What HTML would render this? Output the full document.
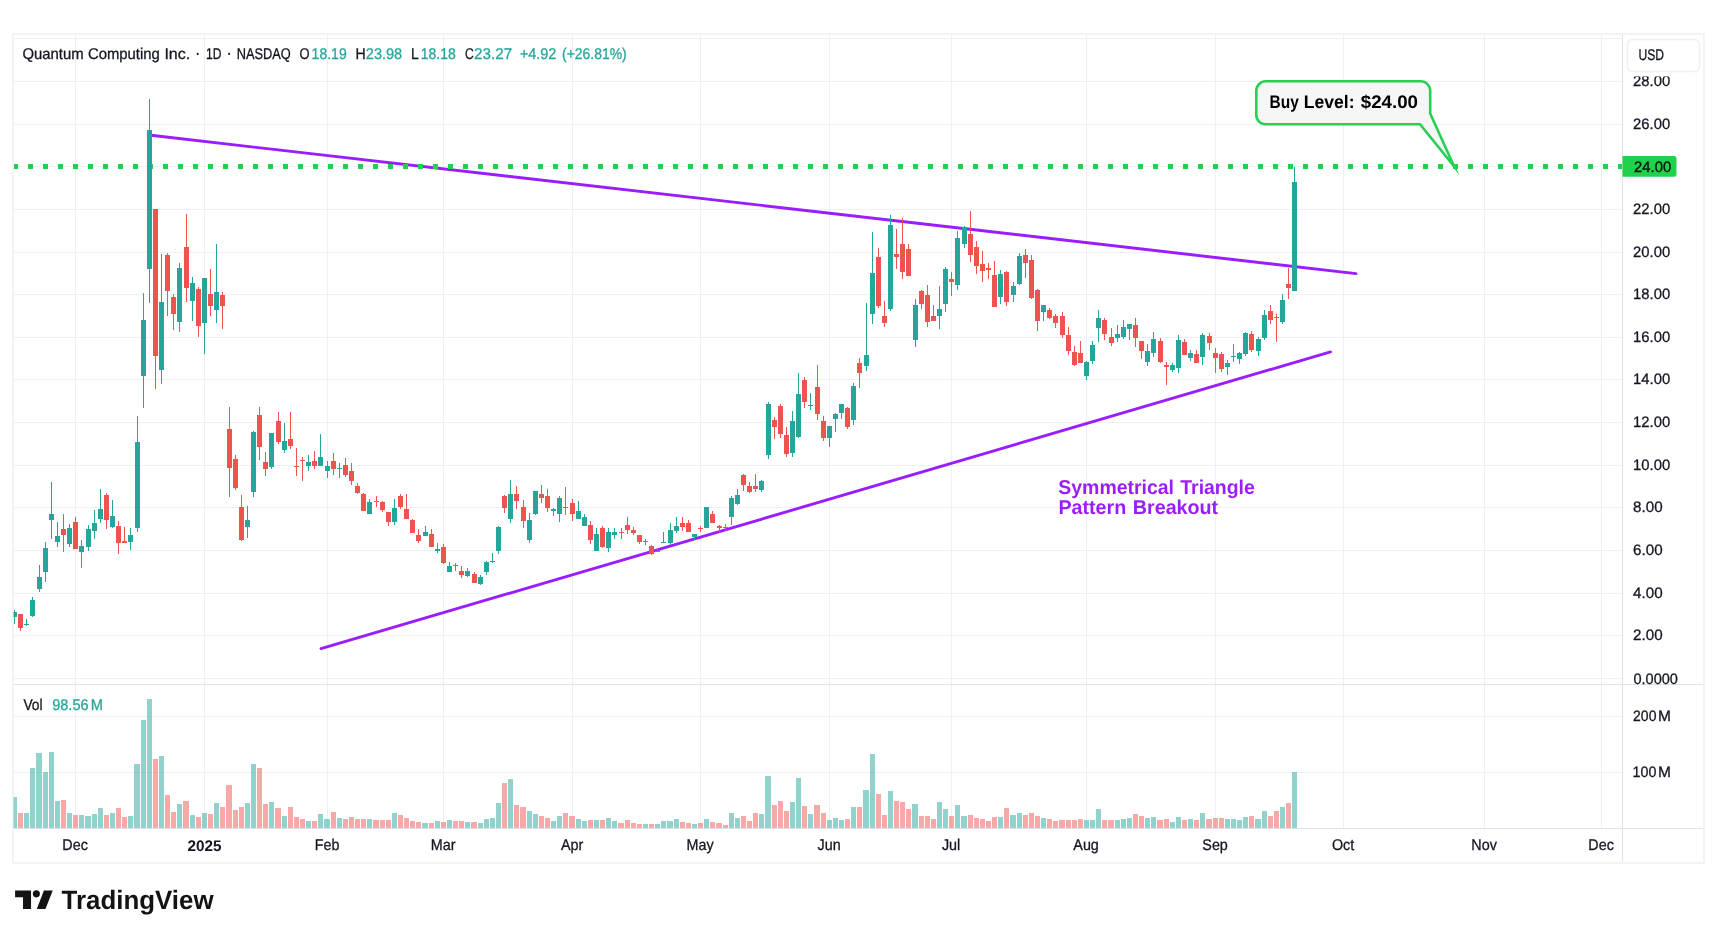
<!DOCTYPE html><html><head><meta charset="utf-8"><title>QUBT</title>
<style>html,body{margin:0;padding:0;background:#fff}body{width:1717px;height:938px;overflow:hidden}svg{display:block;will-change:transform;opacity:0.999}text{font-family:"Liberation Sans",sans-serif;text-rendering:geometricPrecision}</style></head><body>
<svg width="1717" height="938" viewBox="0 0 1717 938">
<rect width="1717" height="938" fill="#fff"/>
<g shape-rendering="crispEdges">
<g fill="#eef0f8">
<rect x="75" y="35" width="1" height="793"/>
<rect x="204" y="35" width="1" height="793"/>
<rect x="327" y="35" width="1" height="793"/>
<rect x="443" y="35" width="1" height="793"/>
<rect x="572" y="35" width="1" height="793"/>
<rect x="700" y="35" width="1" height="793"/>
<rect x="829" y="35" width="1" height="793"/>
<rect x="951" y="35" width="1" height="793"/>
<rect x="1086" y="35" width="1" height="793"/>
<rect x="1215" y="35" width="1" height="793"/>
<rect x="1343" y="35" width="1" height="793"/>
<rect x="1484" y="35" width="1" height="793"/>
<rect x="1601" y="35" width="1" height="793"/>
<rect x="14" y="678" width="1608" height="1"/>
<rect x="14" y="635" width="1608" height="1"/>
<rect x="14" y="593" width="1608" height="1"/>
<rect x="14" y="550" width="1608" height="1"/>
<rect x="14" y="507" width="1608" height="1"/>
<rect x="14" y="465" width="1608" height="1"/>
<rect x="14" y="422" width="1608" height="1"/>
<rect x="14" y="379" width="1608" height="1"/>
<rect x="14" y="337" width="1608" height="1"/>
<rect x="14" y="294" width="1608" height="1"/>
<rect x="14" y="252" width="1608" height="1"/>
<rect x="14" y="209" width="1608" height="1"/>
<rect x="14" y="166" width="1608" height="1"/>
<rect x="14" y="124" width="1608" height="1"/>
<rect x="14" y="81" width="1608" height="1"/>
<rect x="14" y="38" width="1608" height="1"/>
<rect x="14" y="716" width="1608" height="1"/>
<rect x="14" y="772" width="1608" height="1"/>
</g>
<g fill="#dfe2ea">
<rect x="1622" y="35" width="1" height="827"/>
<rect x="14" y="828" width="1689" height="1"/>
<rect x="14" y="684" width="1689" height="1"/>
</g>
<g fill="#f3f3f4">
<rect x="12" y="33" width="1693" height="2"/>
<rect x="12" y="862" width="1693" height="2"/>
<rect x="12" y="33" width="2" height="831"/>
<rect x="1703" y="33" width="2" height="831"/>
</g>
</g>
<defs><clipPath id="cp"><rect x="13" y="35" width="1609" height="793"/></clipPath></defs>
<g stroke="#9a1cff" stroke-width="2.9" stroke-linecap="round" fill="none">
<line x1="151" y1="135.3" x2="1356" y2="273.6"/>
<line x1="321" y1="648.6" x2="1330.5" y2="351.9"/>
</g>
<g shape-rendering="crispEdges" fill="#20d14c">
<rect x="14" y="164" width="4" height="5"/>
<rect x="28" y="164" width="5" height="5"/>
<rect x="43" y="164" width="5" height="5"/>
<rect x="58" y="164" width="5" height="5"/>
<rect x="73" y="164" width="5" height="5"/>
<rect x="88" y="164" width="5" height="5"/>
<rect x="103" y="164" width="5" height="5"/>
<rect x="118" y="164" width="5" height="5"/>
<rect x="133" y="164" width="5" height="5"/>
<rect x="148" y="164" width="5" height="5"/>
<rect x="163" y="164" width="5" height="5"/>
<rect x="178" y="164" width="5" height="5"/>
<rect x="193" y="164" width="5" height="5"/>
<rect x="208" y="164" width="5" height="5"/>
<rect x="223" y="164" width="5" height="5"/>
<rect x="238" y="164" width="5" height="5"/>
<rect x="253" y="164" width="5" height="5"/>
<rect x="268" y="164" width="5" height="5"/>
<rect x="283" y="164" width="5" height="5"/>
<rect x="298" y="164" width="5" height="5"/>
<rect x="313" y="164" width="5" height="5"/>
<rect x="328" y="164" width="5" height="5"/>
<rect x="343" y="164" width="5" height="5"/>
<rect x="358" y="164" width="5" height="5"/>
<rect x="373" y="164" width="5" height="5"/>
<rect x="388" y="164" width="5" height="5"/>
<rect x="403" y="164" width="5" height="5"/>
<rect x="418" y="164" width="5" height="5"/>
<rect x="433" y="164" width="5" height="5"/>
<rect x="448" y="164" width="5" height="5"/>
<rect x="463" y="164" width="5" height="5"/>
<rect x="478" y="164" width="5" height="5"/>
<rect x="493" y="164" width="5" height="5"/>
<rect x="508" y="164" width="5" height="5"/>
<rect x="523" y="164" width="5" height="5"/>
<rect x="538" y="164" width="5" height="5"/>
<rect x="553" y="164" width="5" height="5"/>
<rect x="568" y="164" width="5" height="5"/>
<rect x="583" y="164" width="5" height="5"/>
<rect x="598" y="164" width="5" height="5"/>
<rect x="613" y="164" width="5" height="5"/>
<rect x="628" y="164" width="5" height="5"/>
<rect x="643" y="164" width="5" height="5"/>
<rect x="658" y="164" width="5" height="5"/>
<rect x="673" y="164" width="5" height="5"/>
<rect x="688" y="164" width="5" height="5"/>
<rect x="703" y="164" width="5" height="5"/>
<rect x="718" y="164" width="5" height="5"/>
<rect x="733" y="164" width="5" height="5"/>
<rect x="748" y="164" width="5" height="5"/>
<rect x="763" y="164" width="5" height="5"/>
<rect x="778" y="164" width="5" height="5"/>
<rect x="793" y="164" width="5" height="5"/>
<rect x="808" y="164" width="5" height="5"/>
<rect x="823" y="164" width="5" height="5"/>
<rect x="838" y="164" width="5" height="5"/>
<rect x="853" y="164" width="5" height="5"/>
<rect x="868" y="164" width="5" height="5"/>
<rect x="883" y="164" width="5" height="5"/>
<rect x="898" y="164" width="5" height="5"/>
<rect x="913" y="164" width="5" height="5"/>
<rect x="928" y="164" width="5" height="5"/>
<rect x="943" y="164" width="5" height="5"/>
<rect x="958" y="164" width="5" height="5"/>
<rect x="973" y="164" width="5" height="5"/>
<rect x="988" y="164" width="5" height="5"/>
<rect x="1003" y="164" width="5" height="5"/>
<rect x="1018" y="164" width="5" height="5"/>
<rect x="1033" y="164" width="5" height="5"/>
<rect x="1048" y="164" width="5" height="5"/>
<rect x="1063" y="164" width="5" height="5"/>
<rect x="1078" y="164" width="5" height="5"/>
<rect x="1093" y="164" width="5" height="5"/>
<rect x="1108" y="164" width="5" height="5"/>
<rect x="1123" y="164" width="5" height="5"/>
<rect x="1138" y="164" width="5" height="5"/>
<rect x="1153" y="164" width="5" height="5"/>
<rect x="1168" y="164" width="5" height="5"/>
<rect x="1183" y="164" width="5" height="5"/>
<rect x="1198" y="164" width="5" height="5"/>
<rect x="1213" y="164" width="5" height="5"/>
<rect x="1228" y="164" width="5" height="5"/>
<rect x="1243" y="164" width="5" height="5"/>
<rect x="1258" y="164" width="5" height="5"/>
<rect x="1273" y="164" width="5" height="5"/>
<rect x="1288" y="164" width="5" height="5"/>
<rect x="1303" y="164" width="5" height="5"/>
<rect x="1318" y="164" width="5" height="5"/>
<rect x="1333" y="164" width="5" height="5"/>
<rect x="1348" y="164" width="5" height="5"/>
<rect x="1363" y="164" width="5" height="5"/>
<rect x="1378" y="164" width="5" height="5"/>
<rect x="1393" y="164" width="5" height="5"/>
<rect x="1408" y="164" width="5" height="5"/>
<rect x="1423" y="164" width="5" height="5"/>
<rect x="1438" y="164" width="5" height="5"/>
<rect x="1453" y="164" width="5" height="5"/>
<rect x="1468" y="164" width="5" height="5"/>
<rect x="1483" y="164" width="5" height="5"/>
<rect x="1498" y="164" width="5" height="5"/>
<rect x="1513" y="164" width="5" height="5"/>
<rect x="1528" y="164" width="5" height="5"/>
<rect x="1543" y="164" width="5" height="5"/>
<rect x="1558" y="164" width="5" height="5"/>
<rect x="1573" y="164" width="5" height="5"/>
<rect x="1588" y="164" width="5" height="5"/>
<rect x="1603" y="164" width="5" height="5"/>
<rect x="1618" y="164" width="4" height="5"/>
</g>
<g shape-rendering="crispEdges" clip-path="url(#cp)">
<rect x="12" y="797" width="5" height="31" fill="#26a69a" fill-opacity="0.5"/>
<rect x="18" y="813" width="5" height="15" fill="#ef5350" fill-opacity="0.5"/>
<rect x="24" y="813" width="5" height="15" fill="#26a69a" fill-opacity="0.5"/>
<rect x="30" y="768" width="5" height="60" fill="#26a69a" fill-opacity="0.5"/>
<rect x="36" y="753" width="6" height="75" fill="#26a69a" fill-opacity="0.5"/>
<rect x="43" y="772" width="5" height="56" fill="#26a69a" fill-opacity="0.5"/>
<rect x="49" y="752" width="5" height="76" fill="#26a69a" fill-opacity="0.5"/>
<rect x="55" y="801" width="5" height="27" fill="#26a69a" fill-opacity="0.5"/>
<rect x="61" y="800" width="5" height="28" fill="#ef5350" fill-opacity="0.5"/>
<rect x="67" y="813" width="5" height="15" fill="#26a69a" fill-opacity="0.5"/>
<rect x="73" y="815" width="5" height="13" fill="#ef5350" fill-opacity="0.5"/>
<rect x="79" y="815" width="5" height="13" fill="#26a69a" fill-opacity="0.5"/>
<rect x="85" y="816" width="6" height="12" fill="#26a69a" fill-opacity="0.5"/>
<rect x="92" y="814" width="5" height="14" fill="#26a69a" fill-opacity="0.5"/>
<rect x="98" y="808" width="5" height="20" fill="#26a69a" fill-opacity="0.5"/>
<rect x="104" y="815" width="5" height="13" fill="#ef5350" fill-opacity="0.5"/>
<rect x="110" y="813" width="5" height="15" fill="#26a69a" fill-opacity="0.5"/>
<rect x="116" y="808" width="5" height="20" fill="#ef5350" fill-opacity="0.5"/>
<rect x="122" y="817" width="5" height="11" fill="#ef5350" fill-opacity="0.5"/>
<rect x="128" y="816" width="5" height="12" fill="#26a69a" fill-opacity="0.5"/>
<rect x="134" y="764" width="6" height="64" fill="#26a69a" fill-opacity="0.5"/>
<rect x="141" y="720" width="5" height="108" fill="#26a69a" fill-opacity="0.5"/>
<rect x="147" y="699" width="5" height="129" fill="#26a69a" fill-opacity="0.5"/>
<rect x="153" y="759" width="5" height="69" fill="#ef5350" fill-opacity="0.5"/>
<rect x="159" y="756" width="5" height="72" fill="#26a69a" fill-opacity="0.5"/>
<rect x="165" y="795" width="5" height="33" fill="#ef5350" fill-opacity="0.5"/>
<rect x="171" y="812" width="5" height="16" fill="#ef5350" fill-opacity="0.5"/>
<rect x="177" y="804" width="5" height="24" fill="#26a69a" fill-opacity="0.5"/>
<rect x="183" y="801" width="6" height="27" fill="#ef5350" fill-opacity="0.5"/>
<rect x="190" y="815" width="5" height="13" fill="#26a69a" fill-opacity="0.5"/>
<rect x="196" y="817" width="5" height="11" fill="#ef5350" fill-opacity="0.5"/>
<rect x="202" y="813" width="5" height="15" fill="#26a69a" fill-opacity="0.5"/>
<rect x="208" y="814" width="5" height="14" fill="#ef5350" fill-opacity="0.5"/>
<rect x="214" y="803" width="5" height="25" fill="#26a69a" fill-opacity="0.5"/>
<rect x="220" y="807" width="5" height="21" fill="#ef5350" fill-opacity="0.5"/>
<rect x="226" y="785" width="6" height="43" fill="#ef5350" fill-opacity="0.5"/>
<rect x="233" y="810" width="5" height="18" fill="#ef5350" fill-opacity="0.5"/>
<rect x="239" y="807" width="5" height="21" fill="#ef5350" fill-opacity="0.5"/>
<rect x="245" y="803" width="5" height="25" fill="#26a69a" fill-opacity="0.5"/>
<rect x="251" y="764" width="5" height="64" fill="#26a69a" fill-opacity="0.5"/>
<rect x="257" y="768" width="5" height="60" fill="#ef5350" fill-opacity="0.5"/>
<rect x="263" y="804" width="5" height="24" fill="#ef5350" fill-opacity="0.5"/>
<rect x="269" y="802" width="5" height="26" fill="#26a69a" fill-opacity="0.5"/>
<rect x="275" y="808" width="6" height="20" fill="#ef5350" fill-opacity="0.5"/>
<rect x="282" y="816" width="5" height="12" fill="#26a69a" fill-opacity="0.5"/>
<rect x="288" y="807" width="5" height="21" fill="#ef5350" fill-opacity="0.5"/>
<rect x="294" y="817" width="5" height="11" fill="#ef5350" fill-opacity="0.5"/>
<rect x="300" y="819" width="5" height="9" fill="#ef5350" fill-opacity="0.5"/>
<rect x="306" y="821" width="5" height="7" fill="#26a69a" fill-opacity="0.5"/>
<rect x="312" y="821" width="5" height="7" fill="#ef5350" fill-opacity="0.5"/>
<rect x="318" y="814" width="5" height="14" fill="#26a69a" fill-opacity="0.5"/>
<rect x="324" y="819" width="6" height="9" fill="#26a69a" fill-opacity="0.5"/>
<rect x="331" y="812" width="5" height="16" fill="#ef5350" fill-opacity="0.5"/>
<rect x="337" y="818" width="5" height="10" fill="#26a69a" fill-opacity="0.5"/>
<rect x="343" y="819" width="5" height="9" fill="#ef5350" fill-opacity="0.5"/>
<rect x="349" y="817" width="5" height="11" fill="#ef5350" fill-opacity="0.5"/>
<rect x="355" y="819" width="5" height="9" fill="#ef5350" fill-opacity="0.5"/>
<rect x="361" y="819" width="5" height="9" fill="#ef5350" fill-opacity="0.5"/>
<rect x="367" y="819" width="5" height="9" fill="#26a69a" fill-opacity="0.5"/>
<rect x="373" y="820" width="6" height="8" fill="#ef5350" fill-opacity="0.5"/>
<rect x="380" y="820" width="5" height="8" fill="#ef5350" fill-opacity="0.5"/>
<rect x="386" y="820" width="5" height="8" fill="#ef5350" fill-opacity="0.5"/>
<rect x="392" y="813" width="5" height="15" fill="#26a69a" fill-opacity="0.5"/>
<rect x="398" y="815" width="5" height="13" fill="#ef5350" fill-opacity="0.5"/>
<rect x="404" y="818" width="5" height="10" fill="#ef5350" fill-opacity="0.5"/>
<rect x="410" y="821" width="5" height="7" fill="#ef5350" fill-opacity="0.5"/>
<rect x="416" y="822" width="5" height="6" fill="#ef5350" fill-opacity="0.5"/>
<rect x="422" y="823" width="6" height="5" fill="#26a69a" fill-opacity="0.5"/>
<rect x="429" y="823" width="5" height="5" fill="#ef5350" fill-opacity="0.5"/>
<rect x="435" y="821" width="5" height="7" fill="#26a69a" fill-opacity="0.5"/>
<rect x="441" y="822" width="5" height="6" fill="#ef5350" fill-opacity="0.5"/>
<rect x="447" y="820" width="5" height="8" fill="#26a69a" fill-opacity="0.5"/>
<rect x="453" y="821" width="5" height="7" fill="#ef5350" fill-opacity="0.5"/>
<rect x="459" y="821" width="5" height="7" fill="#ef5350" fill-opacity="0.5"/>
<rect x="465" y="822" width="5" height="6" fill="#26a69a" fill-opacity="0.5"/>
<rect x="471" y="822" width="6" height="6" fill="#ef5350" fill-opacity="0.5"/>
<rect x="478" y="823" width="5" height="5" fill="#26a69a" fill-opacity="0.5"/>
<rect x="484" y="819" width="5" height="9" fill="#26a69a" fill-opacity="0.5"/>
<rect x="490" y="818" width="5" height="10" fill="#26a69a" fill-opacity="0.5"/>
<rect x="496" y="803" width="5" height="25" fill="#26a69a" fill-opacity="0.5"/>
<rect x="502" y="783" width="5" height="45" fill="#ef5350" fill-opacity="0.5"/>
<rect x="508" y="779" width="5" height="49" fill="#26a69a" fill-opacity="0.5"/>
<rect x="514" y="805" width="5" height="23" fill="#ef5350" fill-opacity="0.5"/>
<rect x="520" y="807" width="6" height="21" fill="#ef5350" fill-opacity="0.5"/>
<rect x="527" y="811" width="5" height="17" fill="#26a69a" fill-opacity="0.5"/>
<rect x="533" y="814" width="5" height="14" fill="#26a69a" fill-opacity="0.5"/>
<rect x="539" y="816" width="5" height="12" fill="#ef5350" fill-opacity="0.5"/>
<rect x="545" y="818" width="5" height="10" fill="#ef5350" fill-opacity="0.5"/>
<rect x="551" y="821" width="5" height="7" fill="#26a69a" fill-opacity="0.5"/>
<rect x="557" y="816" width="5" height="12" fill="#26a69a" fill-opacity="0.5"/>
<rect x="563" y="813" width="5" height="15" fill="#ef5350" fill-opacity="0.5"/>
<rect x="569" y="816" width="6" height="12" fill="#ef5350" fill-opacity="0.5"/>
<rect x="576" y="819" width="5" height="9" fill="#26a69a" fill-opacity="0.5"/>
<rect x="582" y="821" width="5" height="7" fill="#26a69a" fill-opacity="0.5"/>
<rect x="588" y="820" width="5" height="8" fill="#ef5350" fill-opacity="0.5"/>
<rect x="594" y="820" width="5" height="8" fill="#26a69a" fill-opacity="0.5"/>
<rect x="600" y="820" width="5" height="8" fill="#ef5350" fill-opacity="0.5"/>
<rect x="606" y="818" width="5" height="10" fill="#26a69a" fill-opacity="0.5"/>
<rect x="612" y="821" width="5" height="7" fill="#26a69a" fill-opacity="0.5"/>
<rect x="618" y="823" width="6" height="5" fill="#ef5350" fill-opacity="0.5"/>
<rect x="625" y="820" width="5" height="8" fill="#ef5350" fill-opacity="0.5"/>
<rect x="631" y="823" width="5" height="5" fill="#ef5350" fill-opacity="0.5"/>
<rect x="637" y="824" width="5" height="4" fill="#ef5350" fill-opacity="0.5"/>
<rect x="643" y="824" width="5" height="4" fill="#26a69a" fill-opacity="0.5"/>
<rect x="649" y="824" width="5" height="4" fill="#ef5350" fill-opacity="0.5"/>
<rect x="655" y="824" width="5" height="4" fill="#26a69a" fill-opacity="0.5"/>
<rect x="661" y="821" width="5" height="7" fill="#26a69a" fill-opacity="0.5"/>
<rect x="667" y="821" width="6" height="7" fill="#26a69a" fill-opacity="0.5"/>
<rect x="674" y="819" width="5" height="9" fill="#26a69a" fill-opacity="0.5"/>
<rect x="680" y="822" width="5" height="6" fill="#ef5350" fill-opacity="0.5"/>
<rect x="686" y="823" width="5" height="5" fill="#ef5350" fill-opacity="0.5"/>
<rect x="692" y="824" width="5" height="4" fill="#26a69a" fill-opacity="0.5"/>
<rect x="698" y="823" width="5" height="5" fill="#ef5350" fill-opacity="0.5"/>
<rect x="704" y="819" width="5" height="9" fill="#26a69a" fill-opacity="0.5"/>
<rect x="710" y="822" width="5" height="6" fill="#ef5350" fill-opacity="0.5"/>
<rect x="716" y="823" width="6" height="5" fill="#ef5350" fill-opacity="0.5"/>
<rect x="723" y="825" width="5" height="3" fill="#ef5350" fill-opacity="0.5"/>
<rect x="729" y="813" width="5" height="15" fill="#26a69a" fill-opacity="0.5"/>
<rect x="735" y="818" width="5" height="10" fill="#26a69a" fill-opacity="0.5"/>
<rect x="741" y="816" width="5" height="12" fill="#ef5350" fill-opacity="0.5"/>
<rect x="747" y="821" width="5" height="7" fill="#ef5350" fill-opacity="0.5"/>
<rect x="753" y="813" width="5" height="15" fill="#ef5350" fill-opacity="0.5"/>
<rect x="759" y="814" width="5" height="14" fill="#26a69a" fill-opacity="0.5"/>
<rect x="765" y="776" width="6" height="52" fill="#26a69a" fill-opacity="0.5"/>
<rect x="772" y="805" width="5" height="23" fill="#ef5350" fill-opacity="0.5"/>
<rect x="778" y="801" width="5" height="27" fill="#ef5350" fill-opacity="0.5"/>
<rect x="784" y="811" width="5" height="17" fill="#ef5350" fill-opacity="0.5"/>
<rect x="790" y="802" width="5" height="26" fill="#26a69a" fill-opacity="0.5"/>
<rect x="796" y="778" width="5" height="50" fill="#26a69a" fill-opacity="0.5"/>
<rect x="802" y="806" width="5" height="22" fill="#ef5350" fill-opacity="0.5"/>
<rect x="808" y="814" width="5" height="14" fill="#26a69a" fill-opacity="0.5"/>
<rect x="814" y="805" width="6" height="23" fill="#ef5350" fill-opacity="0.5"/>
<rect x="821" y="813" width="5" height="15" fill="#ef5350" fill-opacity="0.5"/>
<rect x="827" y="820" width="5" height="8" fill="#26a69a" fill-opacity="0.5"/>
<rect x="833" y="818" width="5" height="10" fill="#26a69a" fill-opacity="0.5"/>
<rect x="839" y="820" width="5" height="8" fill="#26a69a" fill-opacity="0.5"/>
<rect x="845" y="819" width="5" height="9" fill="#ef5350" fill-opacity="0.5"/>
<rect x="851" y="807" width="5" height="21" fill="#26a69a" fill-opacity="0.5"/>
<rect x="857" y="807" width="5" height="21" fill="#ef5350" fill-opacity="0.5"/>
<rect x="863" y="790" width="6" height="38" fill="#26a69a" fill-opacity="0.5"/>
<rect x="870" y="754" width="5" height="74" fill="#26a69a" fill-opacity="0.5"/>
<rect x="876" y="794" width="5" height="34" fill="#ef5350" fill-opacity="0.5"/>
<rect x="882" y="815" width="5" height="13" fill="#ef5350" fill-opacity="0.5"/>
<rect x="888" y="791" width="5" height="37" fill="#26a69a" fill-opacity="0.5"/>
<rect x="894" y="801" width="5" height="27" fill="#ef5350" fill-opacity="0.5"/>
<rect x="900" y="802" width="5" height="26" fill="#ef5350" fill-opacity="0.5"/>
<rect x="906" y="809" width="5" height="19" fill="#ef5350" fill-opacity="0.5"/>
<rect x="912" y="804" width="6" height="24" fill="#26a69a" fill-opacity="0.5"/>
<rect x="919" y="816" width="5" height="12" fill="#ef5350" fill-opacity="0.5"/>
<rect x="925" y="816" width="5" height="12" fill="#ef5350" fill-opacity="0.5"/>
<rect x="931" y="819" width="5" height="9" fill="#ef5350" fill-opacity="0.5"/>
<rect x="937" y="802" width="5" height="26" fill="#26a69a" fill-opacity="0.5"/>
<rect x="943" y="809" width="5" height="19" fill="#26a69a" fill-opacity="0.5"/>
<rect x="949" y="816" width="5" height="12" fill="#ef5350" fill-opacity="0.5"/>
<rect x="955" y="805" width="5" height="23" fill="#26a69a" fill-opacity="0.5"/>
<rect x="961" y="816" width="6" height="12" fill="#26a69a" fill-opacity="0.5"/>
<rect x="968" y="815" width="5" height="13" fill="#ef5350" fill-opacity="0.5"/>
<rect x="974" y="818" width="5" height="10" fill="#ef5350" fill-opacity="0.5"/>
<rect x="980" y="819" width="5" height="9" fill="#ef5350" fill-opacity="0.5"/>
<rect x="986" y="821" width="5" height="7" fill="#ef5350" fill-opacity="0.5"/>
<rect x="992" y="817" width="5" height="11" fill="#ef5350" fill-opacity="0.5"/>
<rect x="998" y="817" width="5" height="11" fill="#26a69a" fill-opacity="0.5"/>
<rect x="1004" y="808" width="5" height="20" fill="#ef5350" fill-opacity="0.5"/>
<rect x="1010" y="815" width="6" height="13" fill="#26a69a" fill-opacity="0.5"/>
<rect x="1017" y="813" width="5" height="15" fill="#26a69a" fill-opacity="0.5"/>
<rect x="1023" y="815" width="5" height="13" fill="#ef5350" fill-opacity="0.5"/>
<rect x="1029" y="813" width="5" height="15" fill="#ef5350" fill-opacity="0.5"/>
<rect x="1035" y="816" width="5" height="12" fill="#ef5350" fill-opacity="0.5"/>
<rect x="1041" y="818" width="5" height="10" fill="#26a69a" fill-opacity="0.5"/>
<rect x="1047" y="819" width="5" height="9" fill="#ef5350" fill-opacity="0.5"/>
<rect x="1053" y="821" width="5" height="7" fill="#ef5350" fill-opacity="0.5"/>
<rect x="1059" y="820" width="6" height="8" fill="#ef5350" fill-opacity="0.5"/>
<rect x="1066" y="820" width="5" height="8" fill="#ef5350" fill-opacity="0.5"/>
<rect x="1072" y="820" width="5" height="8" fill="#ef5350" fill-opacity="0.5"/>
<rect x="1078" y="819" width="5" height="9" fill="#ef5350" fill-opacity="0.5"/>
<rect x="1084" y="820" width="5" height="8" fill="#26a69a" fill-opacity="0.5"/>
<rect x="1090" y="820" width="5" height="8" fill="#26a69a" fill-opacity="0.5"/>
<rect x="1096" y="809" width="5" height="19" fill="#26a69a" fill-opacity="0.5"/>
<rect x="1102" y="820" width="5" height="8" fill="#ef5350" fill-opacity="0.5"/>
<rect x="1108" y="820" width="6" height="8" fill="#ef5350" fill-opacity="0.5"/>
<rect x="1115" y="820" width="5" height="8" fill="#26a69a" fill-opacity="0.5"/>
<rect x="1121" y="819" width="5" height="9" fill="#26a69a" fill-opacity="0.5"/>
<rect x="1127" y="818" width="5" height="10" fill="#26a69a" fill-opacity="0.5"/>
<rect x="1133" y="814" width="5" height="14" fill="#ef5350" fill-opacity="0.5"/>
<rect x="1139" y="816" width="5" height="12" fill="#ef5350" fill-opacity="0.5"/>
<rect x="1145" y="818" width="5" height="10" fill="#26a69a" fill-opacity="0.5"/>
<rect x="1151" y="817" width="5" height="11" fill="#26a69a" fill-opacity="0.5"/>
<rect x="1157" y="820" width="6" height="8" fill="#ef5350" fill-opacity="0.5"/>
<rect x="1164" y="819" width="5" height="9" fill="#ef5350" fill-opacity="0.5"/>
<rect x="1170" y="822" width="5" height="6" fill="#26a69a" fill-opacity="0.5"/>
<rect x="1176" y="817" width="5" height="11" fill="#26a69a" fill-opacity="0.5"/>
<rect x="1182" y="820" width="5" height="8" fill="#ef5350" fill-opacity="0.5"/>
<rect x="1188" y="819" width="5" height="9" fill="#26a69a" fill-opacity="0.5"/>
<rect x="1194" y="820" width="5" height="8" fill="#ef5350" fill-opacity="0.5"/>
<rect x="1200" y="813" width="5" height="15" fill="#26a69a" fill-opacity="0.5"/>
<rect x="1206" y="819" width="6" height="9" fill="#ef5350" fill-opacity="0.5"/>
<rect x="1213" y="818" width="5" height="10" fill="#ef5350" fill-opacity="0.5"/>
<rect x="1219" y="818" width="5" height="10" fill="#ef5350" fill-opacity="0.5"/>
<rect x="1225" y="819" width="5" height="9" fill="#26a69a" fill-opacity="0.5"/>
<rect x="1231" y="819" width="5" height="9" fill="#26a69a" fill-opacity="0.5"/>
<rect x="1237" y="820" width="5" height="8" fill="#26a69a" fill-opacity="0.5"/>
<rect x="1243" y="817" width="5" height="11" fill="#26a69a" fill-opacity="0.5"/>
<rect x="1249" y="816" width="5" height="12" fill="#ef5350" fill-opacity="0.5"/>
<rect x="1255" y="819" width="6" height="9" fill="#26a69a" fill-opacity="0.5"/>
<rect x="1262" y="811" width="5" height="17" fill="#26a69a" fill-opacity="0.5"/>
<rect x="1268" y="816" width="5" height="12" fill="#ef5350" fill-opacity="0.5"/>
<rect x="1274" y="811" width="5" height="17" fill="#ef5350" fill-opacity="0.5"/>
<rect x="1280" y="807" width="5" height="21" fill="#26a69a" fill-opacity="0.5"/>
<rect x="1286" y="803" width="5" height="25" fill="#ef5350" fill-opacity="0.5"/>
<rect x="1292" y="772" width="5" height="56" fill="#26a69a" fill-opacity="0.5"/>
</g>
<g shape-rendering="crispEdges" clip-path="url(#cp)">
<rect x="14" y="610" width="1" height="14" fill="#26a69a"/>
<rect x="12" y="612" width="5" height="5" fill="#26a69a"/>
<rect x="20" y="614" width="1" height="17" fill="#ef5350"/>
<rect x="18" y="614" width="5" height="14" fill="#ef5350"/>
<rect x="26" y="619" width="1" height="7" fill="#26a69a"/>
<rect x="24" y="624" width="5" height="1" fill="#26a69a"/>
<rect x="32" y="597" width="1" height="20" fill="#26a69a"/>
<rect x="30" y="600" width="5" height="16" fill="#26a69a"/>
<rect x="39" y="565" width="1" height="27" fill="#26a69a"/>
<rect x="37" y="577" width="5" height="12" fill="#26a69a"/>
<rect x="45" y="542" width="1" height="40" fill="#26a69a"/>
<rect x="43" y="548" width="5" height="24" fill="#26a69a"/>
<rect x="51" y="482" width="1" height="57" fill="#26a69a"/>
<rect x="49" y="514" width="5" height="6" fill="#26a69a"/>
<rect x="57" y="522" width="1" height="25" fill="#26a69a"/>
<rect x="55" y="536" width="5" height="6" fill="#26a69a"/>
<rect x="63" y="514" width="1" height="38" fill="#ef5350"/>
<rect x="61" y="529" width="5" height="6" fill="#ef5350"/>
<rect x="69" y="524" width="1" height="23" fill="#26a69a"/>
<rect x="67" y="528" width="5" height="16" fill="#26a69a"/>
<rect x="75" y="517" width="1" height="32" fill="#ef5350"/>
<rect x="73" y="522" width="5" height="27" fill="#ef5350"/>
<rect x="81" y="540" width="1" height="28" fill="#26a69a"/>
<rect x="79" y="546" width="5" height="6" fill="#26a69a"/>
<rect x="88" y="525" width="1" height="26" fill="#26a69a"/>
<rect x="86" y="529" width="5" height="18" fill="#26a69a"/>
<rect x="94" y="510" width="1" height="29" fill="#26a69a"/>
<rect x="92" y="523" width="5" height="8" fill="#26a69a"/>
<rect x="100" y="489" width="1" height="34" fill="#26a69a"/>
<rect x="98" y="509" width="5" height="10" fill="#26a69a"/>
<rect x="106" y="493" width="1" height="36" fill="#ef5350"/>
<rect x="104" y="495" width="5" height="25" fill="#ef5350"/>
<rect x="112" y="500" width="1" height="28" fill="#26a69a"/>
<rect x="110" y="516" width="5" height="11" fill="#26a69a"/>
<rect x="118" y="521" width="1" height="33" fill="#ef5350"/>
<rect x="116" y="526" width="5" height="17" fill="#ef5350"/>
<rect x="124" y="527" width="1" height="16" fill="#ef5350"/>
<rect x="122" y="541" width="5" height="2" fill="#ef5350"/>
<rect x="130" y="528" width="1" height="22" fill="#26a69a"/>
<rect x="128" y="535" width="5" height="7" fill="#26a69a"/>
<rect x="137" y="416" width="1" height="116" fill="#26a69a"/>
<rect x="135" y="442" width="5" height="86" fill="#26a69a"/>
<rect x="143" y="293" width="1" height="115" fill="#26a69a"/>
<rect x="141" y="320" width="5" height="56" fill="#26a69a"/>
<rect x="149" y="99" width="1" height="204" fill="#26a69a"/>
<rect x="147" y="130" width="5" height="139" fill="#26a69a"/>
<rect x="155" y="209" width="1" height="180" fill="#ef5350"/>
<rect x="153" y="209" width="5" height="147" fill="#ef5350"/>
<rect x="161" y="254" width="1" height="130" fill="#26a69a"/>
<rect x="159" y="302" width="5" height="68" fill="#26a69a"/>
<rect x="167" y="253" width="1" height="63" fill="#ef5350"/>
<rect x="165" y="255" width="5" height="36" fill="#ef5350"/>
<rect x="173" y="294" width="1" height="36" fill="#ef5350"/>
<rect x="171" y="297" width="5" height="17" fill="#ef5350"/>
<rect x="179" y="263" width="1" height="69" fill="#26a69a"/>
<rect x="177" y="268" width="5" height="54" fill="#26a69a"/>
<rect x="186" y="214" width="1" height="88" fill="#ef5350"/>
<rect x="184" y="247" width="5" height="41" fill="#ef5350"/>
<rect x="192" y="277" width="1" height="44" fill="#26a69a"/>
<rect x="190" y="283" width="5" height="18" fill="#26a69a"/>
<rect x="198" y="287" width="1" height="50" fill="#ef5350"/>
<rect x="196" y="289" width="5" height="37" fill="#ef5350"/>
<rect x="204" y="278" width="1" height="76" fill="#26a69a"/>
<rect x="202" y="278" width="5" height="45" fill="#26a69a"/>
<rect x="210" y="269" width="1" height="47" fill="#ef5350"/>
<rect x="208" y="294" width="5" height="12" fill="#ef5350"/>
<rect x="216" y="244" width="1" height="79" fill="#26a69a"/>
<rect x="214" y="292" width="5" height="18" fill="#26a69a"/>
<rect x="222" y="292" width="1" height="37" fill="#ef5350"/>
<rect x="220" y="295" width="5" height="11" fill="#ef5350"/>
<rect x="229" y="407" width="1" height="90" fill="#ef5350"/>
<rect x="227" y="429" width="5" height="39" fill="#ef5350"/>
<rect x="235" y="455" width="1" height="35" fill="#ef5350"/>
<rect x="233" y="459" width="5" height="29" fill="#ef5350"/>
<rect x="241" y="495" width="1" height="46" fill="#ef5350"/>
<rect x="239" y="507" width="5" height="33" fill="#ef5350"/>
<rect x="247" y="506" width="1" height="32" fill="#26a69a"/>
<rect x="245" y="520" width="5" height="7" fill="#26a69a"/>
<rect x="253" y="431" width="1" height="66" fill="#26a69a"/>
<rect x="251" y="432" width="5" height="60" fill="#26a69a"/>
<rect x="259" y="407" width="1" height="53" fill="#ef5350"/>
<rect x="257" y="415" width="5" height="32" fill="#ef5350"/>
<rect x="265" y="452" width="1" height="24" fill="#ef5350"/>
<rect x="263" y="462" width="5" height="7" fill="#ef5350"/>
<rect x="271" y="433" width="1" height="36" fill="#26a69a"/>
<rect x="269" y="433" width="5" height="34" fill="#26a69a"/>
<rect x="278" y="412" width="1" height="32" fill="#ef5350"/>
<rect x="276" y="421" width="5" height="21" fill="#ef5350"/>
<rect x="284" y="423" width="1" height="30" fill="#26a69a"/>
<rect x="282" y="441" width="5" height="9" fill="#26a69a"/>
<rect x="290" y="412" width="1" height="37" fill="#ef5350"/>
<rect x="288" y="439" width="5" height="7" fill="#ef5350"/>
<rect x="296" y="448" width="1" height="28" fill="#ef5350"/>
<rect x="294" y="466" width="5" height="1" fill="#ef5350"/>
<rect x="302" y="457" width="1" height="24" fill="#ef5350"/>
<rect x="300" y="460" width="5" height="1" fill="#ef5350"/>
<rect x="308" y="455" width="1" height="16" fill="#26a69a"/>
<rect x="306" y="462" width="5" height="4" fill="#26a69a"/>
<rect x="314" y="451" width="1" height="18" fill="#ef5350"/>
<rect x="312" y="461" width="5" height="5" fill="#ef5350"/>
<rect x="320" y="434" width="1" height="32" fill="#26a69a"/>
<rect x="318" y="457" width="5" height="9" fill="#26a69a"/>
<rect x="327" y="461" width="1" height="17" fill="#26a69a"/>
<rect x="325" y="466" width="5" height="5" fill="#26a69a"/>
<rect x="333" y="453" width="1" height="22" fill="#ef5350"/>
<rect x="331" y="461" width="5" height="8" fill="#ef5350"/>
<rect x="339" y="463" width="1" height="15" fill="#26a69a"/>
<rect x="337" y="468" width="5" height="1" fill="#26a69a"/>
<rect x="345" y="458" width="1" height="19" fill="#ef5350"/>
<rect x="343" y="465" width="5" height="10" fill="#ef5350"/>
<rect x="351" y="463" width="1" height="22" fill="#ef5350"/>
<rect x="349" y="471" width="5" height="10" fill="#ef5350"/>
<rect x="357" y="483" width="1" height="11" fill="#ef5350"/>
<rect x="355" y="486" width="5" height="7" fill="#ef5350"/>
<rect x="363" y="493" width="1" height="18" fill="#ef5350"/>
<rect x="361" y="494" width="5" height="17" fill="#ef5350"/>
<rect x="369" y="499" width="1" height="15" fill="#26a69a"/>
<rect x="367" y="502" width="5" height="12" fill="#26a69a"/>
<rect x="376" y="496" width="1" height="11" fill="#ef5350"/>
<rect x="374" y="501" width="5" height="1" fill="#ef5350"/>
<rect x="382" y="501" width="1" height="11" fill="#ef5350"/>
<rect x="380" y="502" width="5" height="8" fill="#ef5350"/>
<rect x="388" y="512" width="1" height="14" fill="#ef5350"/>
<rect x="386" y="512" width="5" height="10" fill="#ef5350"/>
<rect x="394" y="499" width="1" height="26" fill="#26a69a"/>
<rect x="392" y="508" width="5" height="14" fill="#26a69a"/>
<rect x="400" y="494" width="1" height="15" fill="#ef5350"/>
<rect x="398" y="496" width="5" height="11" fill="#ef5350"/>
<rect x="406" y="494" width="1" height="25" fill="#ef5350"/>
<rect x="404" y="509" width="5" height="10" fill="#ef5350"/>
<rect x="412" y="519" width="1" height="14" fill="#ef5350"/>
<rect x="410" y="520" width="5" height="13" fill="#ef5350"/>
<rect x="418" y="529" width="1" height="14" fill="#ef5350"/>
<rect x="416" y="535" width="5" height="6" fill="#ef5350"/>
<rect x="425" y="526" width="1" height="10" fill="#26a69a"/>
<rect x="423" y="532" width="5" height="4" fill="#26a69a"/>
<rect x="431" y="529" width="1" height="18" fill="#ef5350"/>
<rect x="429" y="534" width="5" height="13" fill="#ef5350"/>
<rect x="437" y="543" width="1" height="10" fill="#26a69a"/>
<rect x="435" y="549" width="5" height="2" fill="#26a69a"/>
<rect x="443" y="544" width="1" height="20" fill="#ef5350"/>
<rect x="441" y="547" width="5" height="16" fill="#ef5350"/>
<rect x="449" y="562" width="1" height="10" fill="#26a69a"/>
<rect x="447" y="566" width="5" height="6" fill="#26a69a"/>
<rect x="455" y="563" width="1" height="8" fill="#ef5350"/>
<rect x="453" y="565" width="5" height="1" fill="#ef5350"/>
<rect x="461" y="566" width="1" height="12" fill="#ef5350"/>
<rect x="459" y="571" width="5" height="4" fill="#ef5350"/>
<rect x="467" y="568" width="1" height="9" fill="#26a69a"/>
<rect x="465" y="571" width="5" height="5" fill="#26a69a"/>
<rect x="474" y="572" width="1" height="11" fill="#ef5350"/>
<rect x="472" y="574" width="5" height="9" fill="#ef5350"/>
<rect x="480" y="575" width="1" height="10" fill="#26a69a"/>
<rect x="478" y="577" width="5" height="7" fill="#26a69a"/>
<rect x="486" y="561" width="1" height="14" fill="#26a69a"/>
<rect x="484" y="562" width="5" height="10" fill="#26a69a"/>
<rect x="492" y="553" width="1" height="10" fill="#26a69a"/>
<rect x="490" y="561" width="5" height="1" fill="#26a69a"/>
<rect x="498" y="526" width="1" height="28" fill="#26a69a"/>
<rect x="496" y="527" width="5" height="24" fill="#26a69a"/>
<rect x="504" y="495" width="1" height="18" fill="#ef5350"/>
<rect x="502" y="496" width="5" height="12" fill="#ef5350"/>
<rect x="510" y="480" width="1" height="43" fill="#26a69a"/>
<rect x="508" y="494" width="5" height="25" fill="#26a69a"/>
<rect x="516" y="486" width="1" height="23" fill="#ef5350"/>
<rect x="514" y="494" width="5" height="7" fill="#ef5350"/>
<rect x="523" y="500" width="1" height="28" fill="#ef5350"/>
<rect x="521" y="507" width="5" height="14" fill="#ef5350"/>
<rect x="529" y="513" width="1" height="30" fill="#26a69a"/>
<rect x="527" y="520" width="5" height="20" fill="#26a69a"/>
<rect x="535" y="491" width="1" height="24" fill="#26a69a"/>
<rect x="533" y="491" width="5" height="23" fill="#26a69a"/>
<rect x="541" y="485" width="1" height="18" fill="#ef5350"/>
<rect x="539" y="494" width="5" height="4" fill="#ef5350"/>
<rect x="547" y="489" width="1" height="23" fill="#ef5350"/>
<rect x="545" y="496" width="5" height="12" fill="#ef5350"/>
<rect x="553" y="508" width="1" height="8" fill="#26a69a"/>
<rect x="551" y="509" width="5" height="2" fill="#26a69a"/>
<rect x="559" y="496" width="1" height="26" fill="#26a69a"/>
<rect x="557" y="498" width="5" height="16" fill="#26a69a"/>
<rect x="565" y="487" width="1" height="28" fill="#ef5350"/>
<rect x="563" y="507" width="5" height="1" fill="#ef5350"/>
<rect x="572" y="499" width="1" height="22" fill="#ef5350"/>
<rect x="570" y="503" width="5" height="11" fill="#ef5350"/>
<rect x="578" y="501" width="1" height="18" fill="#26a69a"/>
<rect x="576" y="511" width="5" height="8" fill="#26a69a"/>
<rect x="584" y="514" width="1" height="12" fill="#26a69a"/>
<rect x="582" y="517" width="5" height="9" fill="#26a69a"/>
<rect x="590" y="521" width="1" height="23" fill="#ef5350"/>
<rect x="588" y="525" width="5" height="15" fill="#ef5350"/>
<rect x="596" y="528" width="1" height="23" fill="#26a69a"/>
<rect x="594" y="534" width="5" height="17" fill="#26a69a"/>
<rect x="602" y="526" width="1" height="22" fill="#ef5350"/>
<rect x="600" y="528" width="5" height="19" fill="#ef5350"/>
<rect x="608" y="528" width="1" height="24" fill="#26a69a"/>
<rect x="606" y="532" width="5" height="16" fill="#26a69a"/>
<rect x="614" y="528" width="1" height="11" fill="#26a69a"/>
<rect x="612" y="532" width="5" height="3" fill="#26a69a"/>
<rect x="621" y="528" width="1" height="11" fill="#ef5350"/>
<rect x="619" y="532" width="5" height="1" fill="#ef5350"/>
<rect x="627" y="517" width="1" height="17" fill="#ef5350"/>
<rect x="625" y="525" width="5" height="5" fill="#ef5350"/>
<rect x="633" y="527" width="1" height="8" fill="#ef5350"/>
<rect x="631" y="530" width="5" height="3" fill="#ef5350"/>
<rect x="639" y="535" width="1" height="9" fill="#ef5350"/>
<rect x="637" y="535" width="5" height="7" fill="#ef5350"/>
<rect x="645" y="539" width="1" height="6" fill="#26a69a"/>
<rect x="643" y="541" width="5" height="1" fill="#26a69a"/>
<rect x="651" y="545" width="1" height="10" fill="#ef5350"/>
<rect x="649" y="546" width="5" height="8" fill="#ef5350"/>
<rect x="657" y="549" width="1" height="3" fill="#26a69a"/>
<rect x="655" y="551" width="5" height="1" fill="#26a69a"/>
<rect x="663" y="532" width="1" height="11" fill="#26a69a"/>
<rect x="661" y="542" width="5" height="1" fill="#26a69a"/>
<rect x="670" y="523" width="1" height="22" fill="#26a69a"/>
<rect x="668" y="530" width="5" height="13" fill="#26a69a"/>
<rect x="676" y="517" width="1" height="16" fill="#26a69a"/>
<rect x="674" y="526" width="5" height="5" fill="#26a69a"/>
<rect x="682" y="517" width="1" height="14" fill="#ef5350"/>
<rect x="680" y="523" width="5" height="4" fill="#ef5350"/>
<rect x="688" y="520" width="1" height="12" fill="#ef5350"/>
<rect x="686" y="523" width="5" height="9" fill="#ef5350"/>
<rect x="694" y="534" width="1" height="6" fill="#26a69a"/>
<rect x="692" y="534" width="5" height="3" fill="#26a69a"/>
<rect x="700" y="526" width="1" height="6" fill="#ef5350"/>
<rect x="698" y="528" width="5" height="1" fill="#ef5350"/>
<rect x="706" y="507" width="1" height="21" fill="#26a69a"/>
<rect x="704" y="507" width="5" height="21" fill="#26a69a"/>
<rect x="712" y="511" width="1" height="12" fill="#ef5350"/>
<rect x="710" y="514" width="5" height="9" fill="#ef5350"/>
<rect x="719" y="525" width="1" height="7" fill="#ef5350"/>
<rect x="717" y="526" width="5" height="2" fill="#ef5350"/>
<rect x="725" y="524" width="1" height="7" fill="#ef5350"/>
<rect x="723" y="527" width="5" height="1" fill="#ef5350"/>
<rect x="731" y="496" width="1" height="29" fill="#26a69a"/>
<rect x="729" y="498" width="5" height="19" fill="#26a69a"/>
<rect x="737" y="489" width="1" height="16" fill="#26a69a"/>
<rect x="735" y="495" width="5" height="9" fill="#26a69a"/>
<rect x="743" y="474" width="1" height="17" fill="#ef5350"/>
<rect x="741" y="475" width="5" height="10" fill="#ef5350"/>
<rect x="749" y="482" width="1" height="11" fill="#ef5350"/>
<rect x="747" y="486" width="5" height="6" fill="#ef5350"/>
<rect x="755" y="474" width="1" height="18" fill="#ef5350"/>
<rect x="753" y="486" width="5" height="3" fill="#ef5350"/>
<rect x="761" y="480" width="1" height="12" fill="#26a69a"/>
<rect x="759" y="481" width="5" height="9" fill="#26a69a"/>
<rect x="768" y="402" width="1" height="57" fill="#26a69a"/>
<rect x="766" y="404" width="5" height="51" fill="#26a69a"/>
<rect x="774" y="417" width="1" height="22" fill="#ef5350"/>
<rect x="772" y="420" width="5" height="7" fill="#ef5350"/>
<rect x="780" y="404" width="1" height="34" fill="#ef5350"/>
<rect x="778" y="406" width="5" height="28" fill="#ef5350"/>
<rect x="786" y="427" width="1" height="30" fill="#ef5350"/>
<rect x="784" y="435" width="5" height="19" fill="#ef5350"/>
<rect x="792" y="411" width="1" height="46" fill="#26a69a"/>
<rect x="790" y="421" width="5" height="32" fill="#26a69a"/>
<rect x="798" y="373" width="1" height="65" fill="#26a69a"/>
<rect x="796" y="394" width="5" height="43" fill="#26a69a"/>
<rect x="804" y="377" width="1" height="31" fill="#ef5350"/>
<rect x="802" y="380" width="5" height="22" fill="#ef5350"/>
<rect x="810" y="393" width="1" height="17" fill="#26a69a"/>
<rect x="808" y="405" width="5" height="1" fill="#26a69a"/>
<rect x="817" y="365" width="1" height="55" fill="#ef5350"/>
<rect x="815" y="387" width="5" height="27" fill="#ef5350"/>
<rect x="823" y="416" width="1" height="25" fill="#ef5350"/>
<rect x="821" y="421" width="5" height="17" fill="#ef5350"/>
<rect x="829" y="426" width="1" height="21" fill="#26a69a"/>
<rect x="827" y="426" width="5" height="12" fill="#26a69a"/>
<rect x="835" y="413" width="1" height="19" fill="#26a69a"/>
<rect x="833" y="414" width="5" height="5" fill="#26a69a"/>
<rect x="841" y="404" width="1" height="15" fill="#26a69a"/>
<rect x="839" y="404" width="5" height="9" fill="#26a69a"/>
<rect x="847" y="407" width="1" height="22" fill="#ef5350"/>
<rect x="845" y="408" width="5" height="19" fill="#ef5350"/>
<rect x="853" y="383" width="1" height="42" fill="#26a69a"/>
<rect x="851" y="386" width="5" height="34" fill="#26a69a"/>
<rect x="859" y="358" width="1" height="30" fill="#ef5350"/>
<rect x="857" y="363" width="5" height="10" fill="#ef5350"/>
<rect x="866" y="303" width="1" height="68" fill="#26a69a"/>
<rect x="864" y="355" width="5" height="11" fill="#26a69a"/>
<rect x="872" y="232" width="1" height="92" fill="#26a69a"/>
<rect x="870" y="273" width="5" height="41" fill="#26a69a"/>
<rect x="878" y="248" width="1" height="60" fill="#ef5350"/>
<rect x="876" y="257" width="5" height="49" fill="#ef5350"/>
<rect x="884" y="301" width="1" height="26" fill="#ef5350"/>
<rect x="882" y="316" width="5" height="7" fill="#ef5350"/>
<rect x="890" y="215" width="1" height="96" fill="#26a69a"/>
<rect x="888" y="225" width="5" height="84" fill="#26a69a"/>
<rect x="896" y="229" width="1" height="40" fill="#ef5350"/>
<rect x="894" y="254" width="5" height="3" fill="#ef5350"/>
<rect x="902" y="218" width="1" height="61" fill="#ef5350"/>
<rect x="900" y="244" width="5" height="28" fill="#ef5350"/>
<rect x="908" y="244" width="1" height="32" fill="#ef5350"/>
<rect x="906" y="249" width="5" height="27" fill="#ef5350"/>
<rect x="915" y="299" width="1" height="48" fill="#26a69a"/>
<rect x="913" y="305" width="5" height="35" fill="#26a69a"/>
<rect x="921" y="290" width="1" height="19" fill="#ef5350"/>
<rect x="919" y="291" width="5" height="13" fill="#ef5350"/>
<rect x="927" y="285" width="1" height="42" fill="#ef5350"/>
<rect x="925" y="295" width="5" height="27" fill="#ef5350"/>
<rect x="933" y="305" width="1" height="16" fill="#ef5350"/>
<rect x="931" y="316" width="5" height="5" fill="#ef5350"/>
<rect x="939" y="286" width="1" height="43" fill="#26a69a"/>
<rect x="937" y="309" width="5" height="7" fill="#26a69a"/>
<rect x="945" y="267" width="1" height="45" fill="#26a69a"/>
<rect x="943" y="269" width="5" height="35" fill="#26a69a"/>
<rect x="951" y="272" width="1" height="24" fill="#ef5350"/>
<rect x="949" y="279" width="5" height="3" fill="#ef5350"/>
<rect x="957" y="231" width="1" height="59" fill="#26a69a"/>
<rect x="955" y="238" width="5" height="47" fill="#26a69a"/>
<rect x="964" y="226" width="1" height="22" fill="#26a69a"/>
<rect x="962" y="227" width="5" height="17" fill="#26a69a"/>
<rect x="970" y="211" width="1" height="51" fill="#ef5350"/>
<rect x="968" y="234" width="5" height="21" fill="#ef5350"/>
<rect x="976" y="241" width="1" height="33" fill="#ef5350"/>
<rect x="974" y="247" width="5" height="19" fill="#ef5350"/>
<rect x="982" y="251" width="1" height="31" fill="#ef5350"/>
<rect x="980" y="264" width="5" height="7" fill="#ef5350"/>
<rect x="988" y="263" width="1" height="16" fill="#ef5350"/>
<rect x="986" y="268" width="5" height="2" fill="#ef5350"/>
<rect x="994" y="261" width="1" height="46" fill="#ef5350"/>
<rect x="992" y="275" width="5" height="32" fill="#ef5350"/>
<rect x="1000" y="270" width="1" height="34" fill="#26a69a"/>
<rect x="998" y="274" width="5" height="23" fill="#26a69a"/>
<rect x="1006" y="271" width="1" height="35" fill="#ef5350"/>
<rect x="1004" y="272" width="5" height="30" fill="#ef5350"/>
<rect x="1013" y="282" width="1" height="20" fill="#26a69a"/>
<rect x="1011" y="286" width="5" height="9" fill="#26a69a"/>
<rect x="1019" y="253" width="1" height="32" fill="#26a69a"/>
<rect x="1017" y="256" width="5" height="28" fill="#26a69a"/>
<rect x="1025" y="249" width="1" height="29" fill="#ef5350"/>
<rect x="1023" y="255" width="5" height="8" fill="#ef5350"/>
<rect x="1031" y="255" width="1" height="44" fill="#ef5350"/>
<rect x="1029" y="260" width="5" height="38" fill="#ef5350"/>
<rect x="1037" y="289" width="1" height="42" fill="#ef5350"/>
<rect x="1035" y="290" width="5" height="31" fill="#ef5350"/>
<rect x="1043" y="305" width="1" height="16" fill="#26a69a"/>
<rect x="1041" y="305" width="5" height="7" fill="#26a69a"/>
<rect x="1049" y="308" width="1" height="11" fill="#ef5350"/>
<rect x="1047" y="310" width="5" height="8" fill="#ef5350"/>
<rect x="1055" y="314" width="1" height="14" fill="#ef5350"/>
<rect x="1053" y="316" width="5" height="7" fill="#ef5350"/>
<rect x="1062" y="312" width="1" height="26" fill="#ef5350"/>
<rect x="1060" y="316" width="5" height="19" fill="#ef5350"/>
<rect x="1068" y="327" width="1" height="28" fill="#ef5350"/>
<rect x="1066" y="335" width="5" height="16" fill="#ef5350"/>
<rect x="1074" y="346" width="1" height="20" fill="#ef5350"/>
<rect x="1072" y="352" width="5" height="13" fill="#ef5350"/>
<rect x="1080" y="341" width="1" height="22" fill="#ef5350"/>
<rect x="1078" y="353" width="5" height="10" fill="#ef5350"/>
<rect x="1086" y="361" width="1" height="19" fill="#26a69a"/>
<rect x="1084" y="362" width="5" height="14" fill="#26a69a"/>
<rect x="1092" y="341" width="1" height="23" fill="#26a69a"/>
<rect x="1090" y="345" width="5" height="16" fill="#26a69a"/>
<rect x="1098" y="310" width="1" height="32" fill="#26a69a"/>
<rect x="1096" y="318" width="5" height="10" fill="#26a69a"/>
<rect x="1104" y="318" width="1" height="22" fill="#ef5350"/>
<rect x="1102" y="320" width="5" height="14" fill="#ef5350"/>
<rect x="1111" y="328" width="1" height="18" fill="#ef5350"/>
<rect x="1109" y="337" width="5" height="6" fill="#ef5350"/>
<rect x="1117" y="325" width="1" height="17" fill="#26a69a"/>
<rect x="1115" y="334" width="5" height="4" fill="#26a69a"/>
<rect x="1123" y="320" width="1" height="19" fill="#26a69a"/>
<rect x="1121" y="327" width="5" height="10" fill="#26a69a"/>
<rect x="1129" y="324" width="1" height="16" fill="#26a69a"/>
<rect x="1127" y="324" width="5" height="5" fill="#26a69a"/>
<rect x="1135" y="318" width="1" height="29" fill="#ef5350"/>
<rect x="1133" y="325" width="5" height="13" fill="#ef5350"/>
<rect x="1141" y="341" width="1" height="18" fill="#ef5350"/>
<rect x="1139" y="341" width="5" height="10" fill="#ef5350"/>
<rect x="1147" y="344" width="1" height="22" fill="#26a69a"/>
<rect x="1145" y="351" width="5" height="11" fill="#26a69a"/>
<rect x="1153" y="332" width="1" height="25" fill="#26a69a"/>
<rect x="1151" y="339" width="5" height="14" fill="#26a69a"/>
<rect x="1160" y="338" width="1" height="25" fill="#ef5350"/>
<rect x="1158" y="341" width="5" height="21" fill="#ef5350"/>
<rect x="1166" y="362" width="1" height="23" fill="#ef5350"/>
<rect x="1164" y="365" width="5" height="2" fill="#ef5350"/>
<rect x="1172" y="363" width="1" height="9" fill="#26a69a"/>
<rect x="1170" y="365" width="5" height="5" fill="#26a69a"/>
<rect x="1178" y="335" width="1" height="38" fill="#26a69a"/>
<rect x="1176" y="340" width="5" height="28" fill="#26a69a"/>
<rect x="1184" y="339" width="1" height="16" fill="#ef5350"/>
<rect x="1182" y="342" width="5" height="13" fill="#ef5350"/>
<rect x="1190" y="350" width="1" height="11" fill="#26a69a"/>
<rect x="1188" y="353" width="5" height="5" fill="#26a69a"/>
<rect x="1196" y="350" width="1" height="13" fill="#ef5350"/>
<rect x="1194" y="354" width="5" height="9" fill="#ef5350"/>
<rect x="1202" y="333" width="1" height="32" fill="#26a69a"/>
<rect x="1200" y="335" width="5" height="22" fill="#26a69a"/>
<rect x="1209" y="333" width="1" height="17" fill="#ef5350"/>
<rect x="1207" y="336" width="5" height="7" fill="#ef5350"/>
<rect x="1215" y="348" width="1" height="25" fill="#ef5350"/>
<rect x="1213" y="353" width="5" height="5" fill="#ef5350"/>
<rect x="1221" y="352" width="1" height="20" fill="#ef5350"/>
<rect x="1219" y="354" width="5" height="15" fill="#ef5350"/>
<rect x="1227" y="360" width="1" height="15" fill="#26a69a"/>
<rect x="1225" y="363" width="5" height="4" fill="#26a69a"/>
<rect x="1233" y="344" width="1" height="18" fill="#26a69a"/>
<rect x="1231" y="356" width="5" height="1" fill="#26a69a"/>
<rect x="1239" y="352" width="1" height="12" fill="#26a69a"/>
<rect x="1237" y="353" width="5" height="6" fill="#26a69a"/>
<rect x="1245" y="332" width="1" height="24" fill="#26a69a"/>
<rect x="1243" y="333" width="5" height="21" fill="#26a69a"/>
<rect x="1251" y="331" width="1" height="21" fill="#ef5350"/>
<rect x="1249" y="334" width="5" height="16" fill="#ef5350"/>
<rect x="1258" y="337" width="1" height="19" fill="#26a69a"/>
<rect x="1256" y="339" width="5" height="12" fill="#26a69a"/>
<rect x="1264" y="310" width="1" height="30" fill="#26a69a"/>
<rect x="1262" y="315" width="5" height="23" fill="#26a69a"/>
<rect x="1270" y="305" width="1" height="19" fill="#ef5350"/>
<rect x="1268" y="311" width="5" height="9" fill="#ef5350"/>
<rect x="1276" y="314" width="1" height="28" fill="#ef5350"/>
<rect x="1274" y="317" width="5" height="1" fill="#ef5350"/>
<rect x="1282" y="294" width="1" height="30" fill="#26a69a"/>
<rect x="1280" y="300" width="5" height="22" fill="#26a69a"/>
<rect x="1288" y="268" width="1" height="31" fill="#ef5350"/>
<rect x="1286" y="284" width="5" height="4" fill="#ef5350"/>
<rect x="1294" y="167" width="1" height="124" fill="#26a69a"/>
<rect x="1292" y="182" width="5" height="109" fill="#26a69a"/>
</g>
<rect x="13" y="35" width="1" height="826" fill="#f3f3f4" fill-opacity="0.55" shape-rendering="crispEdges"/>
<g fill="#9a1cff" font-weight="bold" font-size="20px">
<text x="1058.3" y="494.1" textLength="115.7" lengthAdjust="spacingAndGlyphs">Symmetrical</text>
<text x="1180.3" y="494.1" textLength="74.5" lengthAdjust="spacingAndGlyphs">Triangle</text>
<text x="1058.4" y="514.1" textLength="67.8" lengthAdjust="spacingAndGlyphs">Pattern</text>
<text x="1132.8" y="514.1" textLength="85.4" lengthAdjust="spacingAndGlyphs">Breakout</text>
</g>
<path d="M1265.7 81.3 H1420.8 a9.4 9.4 0 0 1 9.4 9.4 V113.5 L1454.2 166.5 L1420 124.3 H1265.7 a9.4 9.4 0 0 1 -9.4 -9.4 V90.7 a9.4 9.4 0 0 1 9.4 -9.4 Z" fill="#f6f6f6" stroke="#27cf52" stroke-width="2.6" stroke-linejoin="miter" stroke-miterlimit="10"/>
<text x="1269.5" y="107.8" font-weight="bold" font-size="18.2px" fill="#000" textLength="29.3" lengthAdjust="spacingAndGlyphs">Buy</text>
<text x="1303.8" y="107.8" font-weight="bold" font-size="18.2px" fill="#000" textLength="50.7" lengthAdjust="spacingAndGlyphs">Level:</text>
<text x="1360.8" y="107.8" font-weight="bold" font-size="18.2px" fill="#000" textLength="57.2" lengthAdjust="spacingAndGlyphs">$24.00</text>
<defs><clipPath id="cl"><rect x="1623" y="76.6" width="80" height="760"/></clipPath></defs>
<g fill="#131722" stroke="#131722" stroke-width="0.3" font-size="15.2px" clip-path="url(#cl)">
<text x="1633.1" y="640.0" textLength="29.5" lengthAdjust="spacingAndGlyphs">2.00</text>
<text x="1633.1" y="598.0" textLength="29.5" lengthAdjust="spacingAndGlyphs">4.00</text>
<text x="1633.1" y="555.0" textLength="29.5" lengthAdjust="spacingAndGlyphs">6.00</text>
<text x="1633.1" y="512.0" textLength="29.5" lengthAdjust="spacingAndGlyphs">8.00</text>
<text x="1633.1" y="470.0" textLength="37.1" lengthAdjust="spacingAndGlyphs">10.00</text>
<text x="1633.1" y="427.0" textLength="37.1" lengthAdjust="spacingAndGlyphs">12.00</text>
<text x="1633.1" y="384.0" textLength="37.1" lengthAdjust="spacingAndGlyphs">14.00</text>
<text x="1633.1" y="342.0" textLength="37.1" lengthAdjust="spacingAndGlyphs">16.00</text>
<text x="1633.1" y="299.0" textLength="37.1" lengthAdjust="spacingAndGlyphs">18.00</text>
<text x="1633.1" y="257.0" textLength="37.1" lengthAdjust="spacingAndGlyphs">20.00</text>
<text x="1633.1" y="214.0" textLength="37.1" lengthAdjust="spacingAndGlyphs">22.00</text>
<text x="1633.1" y="129.0" textLength="37.1" lengthAdjust="spacingAndGlyphs">26.00</text>
<text x="1633.1" y="86.0" textLength="37.1" lengthAdjust="spacingAndGlyphs">28.00</text>
<text x="1633.5" y="684.0" textLength="44.4" lengthAdjust="spacingAndGlyphs">0.0000</text>
<text x="1633.1" y="721.4" textLength="23.3" lengthAdjust="spacingAndGlyphs">200</text><text x="1657.9" y="721.4" textLength="12.9" lengthAdjust="spacingAndGlyphs">M</text>
<text x="1632.6" y="777" textLength="23.8" lengthAdjust="spacingAndGlyphs">100</text><text x="1657.9" y="777" textLength="12.9" lengthAdjust="spacingAndGlyphs">M</text>
</g>
<path d="M1622.5 156 H1674 a2.5 2.5 0 0 1 2.5 2.5 V174.2 a2.5 2.5 0 0 1 -2.5 2.5 H1622.5 Z" fill="#20d14c"/>
<text x="1634.1" y="171.6" font-size="15.2px" stroke="#061208" stroke-width="0.3" fill="#061208" textLength="37.1" lengthAdjust="spacingAndGlyphs">24.00</text>
<rect x="1627.5" y="39.5" width="72" height="32" rx="5" fill="#fff" stroke="#f0f0f3" stroke-width="1.5"/>
<text x="1638.4" y="59.9" font-size="15.5px" stroke="#131722" stroke-width="0.3" fill="#131722" textLength="25.6" lengthAdjust="spacingAndGlyphs">USD</text>
<text transform="translate(75.1,850.4) scale(0.925,1)" x="0" y="0" font-size="15.5px" fill="#131722" stroke="#131722" stroke-width="0.3" text-anchor="middle">Dec</text>
<text x="204.5" y="850.5" font-size="15.3px" fill="#131722" text-anchor="middle" font-weight="bold">2025</text>
<text transform="translate(327.1,850.4) scale(0.925,1)" x="0" y="0" font-size="15.5px" fill="#131722" stroke="#131722" stroke-width="0.3" text-anchor="middle">Feb</text>
<text transform="translate(443.1,850.4) scale(0.925,1)" x="0" y="0" font-size="15.5px" fill="#131722" stroke="#131722" stroke-width="0.3" text-anchor="middle">Mar</text>
<text transform="translate(572.1,850.4) scale(0.925,1)" x="0" y="0" font-size="15.5px" fill="#131722" stroke="#131722" stroke-width="0.3" text-anchor="middle">Apr</text>
<text transform="translate(700.1,850.4) scale(0.925,1)" x="0" y="0" font-size="15.5px" fill="#131722" stroke="#131722" stroke-width="0.3" text-anchor="middle">May</text>
<text transform="translate(829.1,850.4) scale(0.925,1)" x="0" y="0" font-size="15.5px" fill="#131722" stroke="#131722" stroke-width="0.3" text-anchor="middle">Jun</text>
<text transform="translate(951.1,850.4) scale(0.925,1)" x="0" y="0" font-size="15.5px" fill="#131722" stroke="#131722" stroke-width="0.3" text-anchor="middle">Jul</text>
<text transform="translate(1086.1,850.4) scale(0.925,1)" x="0" y="0" font-size="15.5px" fill="#131722" stroke="#131722" stroke-width="0.3" text-anchor="middle">Aug</text>
<text transform="translate(1215.1,850.4) scale(0.925,1)" x="0" y="0" font-size="15.5px" fill="#131722" stroke="#131722" stroke-width="0.3" text-anchor="middle">Sep</text>
<text transform="translate(1343.1,850.4) scale(0.925,1)" x="0" y="0" font-size="15.5px" fill="#131722" stroke="#131722" stroke-width="0.3" text-anchor="middle">Oct</text>
<text transform="translate(1484.1,850.4) scale(0.925,1)" x="0" y="0" font-size="15.5px" fill="#131722" stroke="#131722" stroke-width="0.3" text-anchor="middle">Nov</text>
<text transform="translate(1601.1,850.4) scale(0.925,1)" x="0" y="0" font-size="15.5px" fill="#131722" stroke="#131722" stroke-width="0.3" text-anchor="middle">Dec</text>
<text x="22.4" y="59" font-size="15.5px" fill="#131722" stroke="#131722" stroke-width="0.3" textLength="61.2" lengthAdjust="spacingAndGlyphs">Quantum</text>
<text x="88.0" y="59" font-size="15.5px" fill="#131722" stroke="#131722" stroke-width="0.3" textLength="71.8" lengthAdjust="spacingAndGlyphs">Computing</text>
<text x="164.4" y="59" font-size="15.5px" fill="#131722" stroke="#131722" stroke-width="0.3" textLength="25.8" lengthAdjust="spacingAndGlyphs">Inc.</text>
<circle cx="197.7" cy="53.9" r="1.05" fill="#131722"/>
<text x="206.0" y="59" font-size="15.5px" fill="#131722" stroke="#131722" stroke-width="0.3" textLength="15.5" lengthAdjust="spacingAndGlyphs">1D</text>
<circle cx="229.1" cy="53.9" r="1.05" fill="#131722"/>
<text x="236.8" y="59" font-size="15.5px" fill="#131722" stroke="#131722" stroke-width="0.3" textLength="54.0" lengthAdjust="spacingAndGlyphs">NASDAQ</text>
<text x="299.4" y="59" font-size="15.5px" fill="#131722" stroke="#131722" stroke-width="0.3" textLength="10.1" lengthAdjust="spacingAndGlyphs">O</text>
<text x="311.6" y="59" font-size="15.5px" fill="#26a69a" stroke="#26a69a" stroke-width="0.3" textLength="35.1" lengthAdjust="spacingAndGlyphs">18.19</text>
<text x="355.5" y="59" font-size="15.5px" fill="#131722" stroke="#131722" stroke-width="0.3" textLength="10.2" lengthAdjust="spacingAndGlyphs">H</text>
<text x="365.8" y="59" font-size="15.5px" fill="#26a69a" stroke="#26a69a" stroke-width="0.3" textLength="36.4" lengthAdjust="spacingAndGlyphs">23.98</text>
<text x="411.0" y="59" font-size="15.5px" fill="#131722" stroke="#131722" stroke-width="0.3" textLength="7.7" lengthAdjust="spacingAndGlyphs">L</text>
<text x="420.8" y="59" font-size="15.5px" fill="#26a69a" stroke="#26a69a" stroke-width="0.3" textLength="35.0" lengthAdjust="spacingAndGlyphs">18.18</text>
<text x="465.1" y="59" font-size="15.5px" fill="#131722" stroke="#131722" stroke-width="0.3" textLength="8.7" lengthAdjust="spacingAndGlyphs">C</text>
<text x="474.1" y="59" font-size="15.5px" fill="#26a69a" stroke="#26a69a" stroke-width="0.3" textLength="38.0" lengthAdjust="spacingAndGlyphs">23.27</text>
<text x="519.9" y="59" font-size="15.5px" fill="#26a69a" stroke="#26a69a" stroke-width="0.3" textLength="36.5" lengthAdjust="spacingAndGlyphs">+4.92</text>
<text x="562.1" y="59" font-size="15.5px" fill="#26a69a" stroke="#26a69a" stroke-width="0.3" textLength="64.6" lengthAdjust="spacingAndGlyphs">(+26.81%)</text>
<text x="23.4" y="709.7" font-size="15.5px" stroke="#131722" stroke-width="0.3" fill="#131722" textLength="19.2" lengthAdjust="spacingAndGlyphs">Vol</text>
<text x="52.2" y="709.7" font-size="15.5px" stroke="#26a69a" stroke-width="0.3" fill="#26a69a" textLength="36.4" lengthAdjust="spacingAndGlyphs">98.56</text>
<text x="90.8" y="709.7" font-size="15.5px" stroke="#26a69a" stroke-width="0.3" fill="#26a69a" textLength="12.2" lengthAdjust="spacingAndGlyphs">M</text>
<g fill="#131313">
<path d="M15.1 890.4H31.05V908.9H23V897.3H15.1Z"/>
<circle cx="36.35" cy="893.85" r="3.55"/>
<path d="M43.9 890.4H52.75L45.45 908.9H36.8Z"/>
</g>
<text x="61.6" y="908.9" font-size="26.5px" font-weight="bold" fill="#131313" textLength="152" lengthAdjust="spacingAndGlyphs">TradingView</text>
</svg></body></html>
